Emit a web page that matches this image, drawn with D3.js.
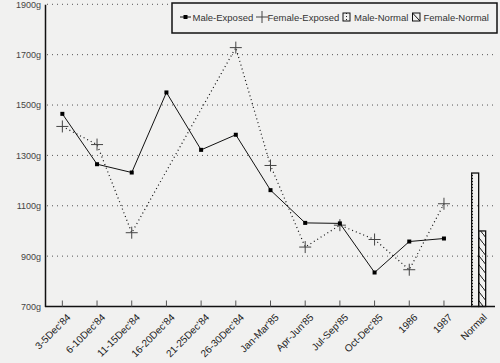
<!DOCTYPE html>
<html><head><meta charset="utf-8">
<script src="https://cdn.jsdelivr.net/npm/d3@7/dist/d3.min.js"></script>
<style>
html,body{margin:0;padding:0;background:#f1f1f0;}
svg{display:block;font-family:"Liberation Sans",Arial,sans-serif;}
</style></head>
<body>
<svg id="c" width="500" height="363"></svg>
<script>
const categories = ["3-5Dec'84","6-10Dec'84","11-15Dec'84","16-20Dec'84","21-25Dec'84","26-30Dec'84","Jan-Mar'85","Apr-Jun'85","Jul-Sep'85","Oct-Dec'85","1986","1987","Normal"];
const maleExposed = [1465,1265,1232,1550,1322,1382,1162,1032,1030,835,958,970,null];
const femaleExposed = [1415,1343,993,null,null,1728,1260,936,1023,966,846,1108,null];
const maleNormal = 1230;
const femaleNormal = 1000;
const yTicks = [700,900,1100,1300,1500,1700,1900];
const legendLabels = ["Male-Exposed","Female-Exposed","Male-Normal","Female-Normal"];

const svg = d3.select("#c");
const x = d3.scaleBand().domain(categories).range([45,496]).padding(0);
const y = d3.scaleLinear().domain([700,1900]).range([306.5,4.3]);
const cx = c => x(c) + x.bandwidth()/2;

const defs = svg.append("defs");
const pd = defs.append("pattern").attr("id","dots").attr("patternUnits","userSpaceOnUse")
  .attr("width",7).attr("height",3);
pd.append("rect").attr("x",3).attr("y",1).attr("width",1).attr("height",1).attr("fill","#222");
const ph = defs.append("pattern").attr("id","hatch").attr("patternUnits","userSpaceOnUse")
  .attr("width",7).attr("height",9);
ph.append("path").attr("d","M0,0 L7,9").attr("stroke","#111").attr("stroke-width",1);
ph.append("path").attr("d","M-1,-1 L0,0 M7,9 L8,10").attr("stroke","#111").attr("stroke-width",1);

// gridlines
svg.append("g").selectAll("line").data(yTicks.filter(t=>t>700)).join("line")
  .attr("x1",47).attr("x2",495).attr("y1",d=>y(d)).attr("y2",d=>y(d))
  .attr("stroke","#555").attr("stroke-width",1).attr("stroke-dasharray","1,4");

// y axis
const yAxis = d3.axisLeft(y).tickValues(yTicks).tickSize(0).tickPadding(4).tickFormat(d=>d+"g");
const gy = svg.append("g").attr("transform","translate(45,0)").call(yAxis);
gy.select(".domain").attr("stroke","#111").attr("stroke-width",1.5);
gy.selectAll("text").attr("font-size",9).attr("fill","#444").attr("font-family","Liberation Sans, Arial, sans-serif");

// x axis
const xAxis = d3.axisBottom(x).tickSize(-6).tickSizeOuter(0).tickFormat("");
const gx = svg.append("g").attr("transform","translate(0,306.5)").call(xAxis);
gx.select(".domain").attr("stroke","#111").attr("stroke-width",1.5).attr("d","M45,0H495");
gx.selectAll(".tick line").attr("stroke","#555");
gx.selectAll(".tick").filter(d=>d==="Normal").select("line").remove();
svg.append("g").selectAll("text").data(categories).join("text")
  .attr("transform",d=>`translate(${cx(d)+4},${313})rotate(-45)`)
  .attr("text-anchor","end").attr("dy","0.7em")
  .attr("font-size",10).attr("fill","#222").text(d=>d);

// normal bars
const bw = 7;
svg.append("rect").attr("x",cx("Normal")-bw).attr("y",y(maleNormal)).attr("width",bw)
  .attr("height",y(700)-y(maleNormal)).attr("fill","url(#dots)").attr("stroke","#111").attr("stroke-width",1.3);
svg.append("rect").attr("x",cx("Normal")).attr("y",y(femaleNormal)).attr("width",bw)
  .attr("height",y(700)-y(femaleNormal)).attr("fill","url(#hatch)").attr("stroke","#111").attr("stroke-width",1.3);

// female exposed
const fData = categories.map((c,i)=>({c,v:femaleExposed[i]})).filter(d=>d.v!=null);
svg.append("path").datum(fData)
  .attr("d",d3.line().x(d=>cx(d.c)).y(d=>y(d.v)))
  .attr("fill","none").attr("stroke","#111").attr("stroke-width",1.2).attr("stroke-dasharray","1,3");
svg.append("g").selectAll("path").data(fData).join("path")
  .attr("d",d=>{const px=cx(d.c), py=y(d.v); return `M${px-6},${py}H${px+6}M${px},${py-6}V${py+6}`;})
  .attr("stroke","#444").attr("stroke-width",1);

// male exposed
const mData = categories.map((c,i)=>({c,v:maleExposed[i]})).filter(d=>d.v!=null);
svg.append("path").datum(mData)
  .attr("d",d3.line().x(d=>cx(d.c)).y(d=>y(d.v)))
  .attr("fill","none").attr("stroke","#111").attr("stroke-width",1);
svg.append("g").selectAll("rect").data(mData).join("rect")
  .attr("x",d=>cx(d.c)-2).attr("y",d=>y(d.v)-2).attr("width",4).attr("height",4).attr("fill","#000");

// legend
const lg = svg.append("g");
lg.append("rect").attr("x",172).attr("y",3).attr("width",325).attr("height",30)
  .attr("fill","#f1f1f0").attr("stroke","#111").attr("stroke-width",1.5);
lg.append("line").attr("x1",180).attr("x2",191).attr("y1",17).attr("y2",17).attr("stroke","#111");
lg.append("rect").attr("x",183.5).attr("y",15).attr("width",4).attr("height",4).attr("fill","#000");
lg.append("path").attr("d","M256,17H268M262,11V23").attr("stroke","#444");
lg.append("rect").attr("x",343).attr("y",13).attr("width",7).attr("height",8).attr("fill","url(#dots)").attr("stroke","#111");
lg.append("rect").attr("x",412.5).attr("y",13).attr("width",7.5).attr("height",8).attr("fill","none").attr("stroke","#111");
lg.append("path").attr("d","M412.5,13L420,21").attr("stroke","#111");
const lx = [192.5,267.5,354,423.5];
lg.selectAll("text").data(legendLabels).join("text")
  .attr("x",(d,i)=>lx[i]).attr("y",21).attr("font-size",9.5).attr("fill","#333").text(d=>d);
</script>
</body></html>
